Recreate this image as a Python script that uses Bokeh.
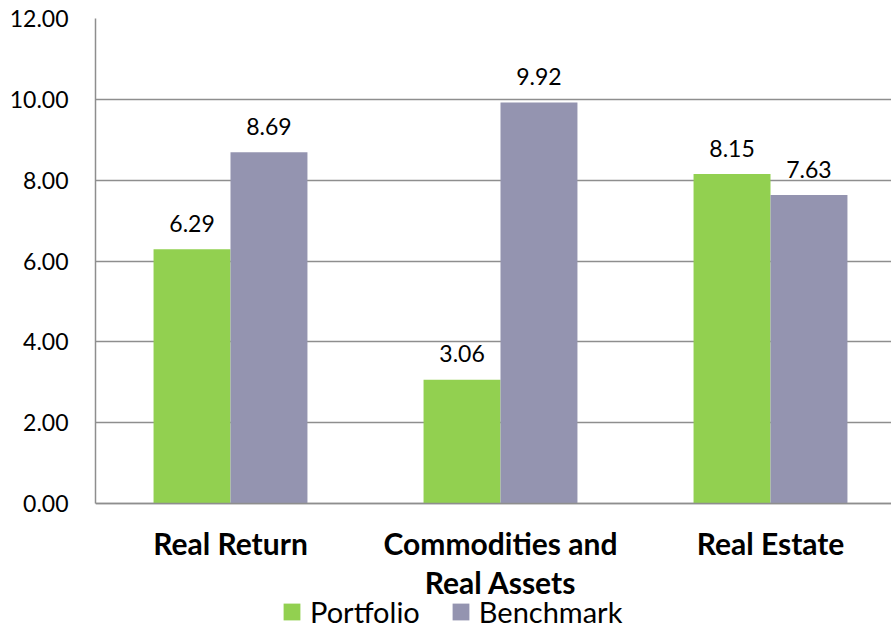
from bokeh.plotting import figure
from bokeh.models import (Range1d, FixedTicker, NumeralTickFormatter, Legend,
                          LegendItem, ColumnDataSource, Span)
from bokeh.transform import dodge
from bokeh.core.properties import value
from bokeh.embed import file_html
from bokeh.resources import INLINE

categories = ["Real Return", "Commodities and\nReal Assets", "Real Estate"]
portfolio = [6.29, 3.06, 8.15]
benchmark = [8.69, 9.92, 7.63]
y_ticks = [0, 2, 4, 6, 8, 10, 12]

GREEN = "#92D050"
PURPLE = "#9494B0"
GRID = "#8E8E8E"
FONT = "Lato"

idx = list(range(len(categories)))
src = ColumnDataSource(dict(
    x=idx,
    base=[0] * len(idx),
    cat=categories,
    portfolio=portfolio,
    benchmark=benchmark,
    plab=[f"{v:.2f}" for v in portfolio],
    blab=[f"{v:.2f}" for v in benchmark],
))

# frame: value 12 at y=18px, value 0 at y=503px (40.4167 px per unit),
# frame continues to the bottom of the canvas to host category labels + legend
PX_PER_UNIT = 485 / 12
y_start = 12 - (628 - 18) / PX_PER_UNIT
x_end = -0.5 + 796 / 270

p = figure(width=891, height=628, output_backend="svg", toolbar_location=None,
           x_range=Range1d(-0.5, x_end), y_range=Range1d(y_start, 12),
           x_axis_location=None,
           min_border_left=95, min_border_top=18, min_border_right=0,
           min_border_bottom=0)
p.outline_line_color = None
p.background_fill_color = "white"

bw = 0.285
off = bw / 2
r1 = p.vbar(x=dodge("x", -off, range=p.x_range), top="portfolio", width=bw,
            source=src, fill_color=GREEN, line_color=None)
r2 = p.vbar(x=dodge("x", off, range=p.x_range), top="benchmark", width=bw,
            source=src, fill_color=PURPLE, line_color=None)

p.text(x=dodge("x", -off, range=p.x_range), y="portfolio", text="plab", source=src,
       text_font=value(FONT), text_font_size="23px", text_align="center",
       text_baseline="alphabetic", y_offset=-26, text_color="#000000")
p.text(x=dodge("x", off, range=p.x_range), y="benchmark", text="blab", source=src,
       text_font=value(FONT), text_font_size="23px", text_align="center",
       text_baseline="alphabetic", y_offset=-26, text_color="#000000")

# category labels under the baseline
p.text(x="x", y="base", text="cat", source=src,
       text_font=value(FONT), text_font_size="30px", text_font_style="bold",
       text_align="center", text_baseline="top", y_offset=21,
       text_line_height=1.1, text_color="#000000")

# x axis line at 0
p.add_layout(Span(location=0, dimension="width", line_color=GRID, line_width=1.5))

# grid
p.xgrid.visible = False
p.ygrid.grid_line_color = GRID
p.ygrid.grid_line_width = 1.5
p.ygrid.ticker = FixedTicker(ticks=y_ticks)
p.ygrid.bounds = (0, 12)

# y axis
p.yaxis.ticker = FixedTicker(ticks=y_ticks)
p.yaxis.bounds = (0, 12)
p.yaxis.formatter = NumeralTickFormatter(format="0.00")
p.yaxis.axis_line_color = GRID
p.yaxis.axis_line_width = 1.5
p.yaxis.major_tick_line_color = None
p.yaxis.minor_tick_line_color = None
p.yaxis.major_label_text_font = FONT
p.yaxis.major_label_text_font_size = "23px"
p.yaxis.major_label_text_color = "#000000"
p.yaxis.major_label_standoff = 21

legend = Legend(items=[LegendItem(label="Portfolio", renderers=[r1]),
                       LegendItem(label="Benchmark", renderers=[r2])],
                orientation="horizontal", location=(186, -1),
                label_text_font=FONT, label_text_font_size="29px",
                label_text_color="#000000", label_text_baseline="middle",
                glyph_width=21, glyph_height=21, label_standoff=8,
                spacing=30, padding=0, margin=0,
                border_line_color=None, background_fill_alpha=0)
p.add_layout(legend, "center")

open("out.html", "w").write(file_html(p, INLINE))
